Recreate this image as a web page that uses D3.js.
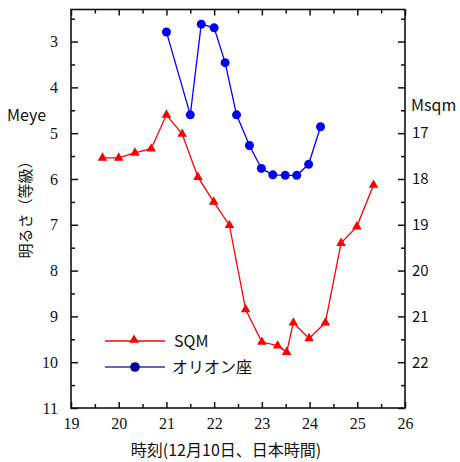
<!DOCTYPE html>
<html>
  <head>
    <meta charset="UTF-8" />
    <title>SQM / Orion</title>
    <style>
      body { margin: 0; background: #fff; }
    </style>
  </head>
  <body>
    <script src="https://cdn.jsdelivr.net/npm/d3@7"></script>
    <script>
      // SQM readings (hour, Meye)
      var sqmHours = [19.66, 20.0, 20.34, 20.68, 21.0, 21.33, 21.66, 21.99, 22.32, 22.66,
                      23.0, 23.33, 23.52, 23.66, 23.99, 24.33, 24.66, 24.99, 25.34];
      var sqmMag   = [5.54, 5.54, 5.43, 5.34, 4.60, 5.02, 5.96, 6.50, 7.01, 8.85,
                      9.56, 9.64, 9.78, 9.14, 9.48, 9.14, 7.40, 7.04, 6.13];

      // Orion estimates (hour, Meye)
      var orionHours = [21.0, 21.5, 21.73, 22.0, 22.23, 22.47, 22.74, 22.99, 23.23, 23.49, 23.73, 23.98, 24.23];
      var orionMag   = [2.79, 4.60, 2.62, 2.70, 3.46, 4.60, 5.27, 5.77, 5.91, 5.92, 5.92, 5.68, 4.86];

      var xTicks = [19, 20, 21, 22, 23, 24, 25, 26];
      var leftTicks = [3, 4, 5, 6, 7, 8, 9, 10, 11];
      var rightLabels = [17, 18, 19, 20, 21, 22];
      var seriesNames = ["SQM", "オリオン座"];

      var W = 460, H = 462;
      var x0 = 71, x1 = 405, y0 = 9.5, y1 = 408;
      var SERIF = "'Liberation Serif', 'Times New Roman', serif";
      var SANS = "'Noto Sans CJK JP', 'Noto Sans', sans-serif";

      var x = d3.scaleLinear().domain([19, 26]).range([x0, x1]);
      var y = d3.scaleLinear().domain([2.3, 11]).range([y0, y1]);
      var yR = d3.scaleLinear().domain([14.3, 23]).range([y0, y1]);

      var svg = d3.select("body").append("svg")
        .attr("width", W).attr("height", H);

      function steps(a, b) {
        var r = [];
        for (var v = a; v <= b + 1e-9; v += 1) r.push(v);
        return r;
      }
      function noDomain(g) { g.select(".domain").remove(); }

      // bottom axis
      svg.append("g")
        .attr("transform", "translate(0," + y1 + ")")
        .call(d3.axisBottom(x).tickValues(xTicks).tickFormat(d3.format("d"))
          .tickSizeInner(-6).tickSizeOuter(0).tickPadding(10))
        .call(noDomain)
        .attr("font-family", SERIF).attr("font-size", 16);
      svg.append("g")
        .attr("transform", "translate(0," + y1 + ")")
        .call(d3.axisBottom(x).tickValues(steps(19.5, 25.5)).tickSizeInner(-4).tickSizeOuter(0).tickFormat(""))
        .call(noDomain);

      // top axis
      svg.append("g")
        .attr("transform", "translate(0," + y0 + ")")
        .call(d3.axisTop(x).tickValues(xTicks).tickSizeInner(-6).tickSizeOuter(0).tickFormat(""))
        .call(noDomain);
      svg.append("g")
        .attr("transform", "translate(0," + y0 + ")")
        .call(d3.axisTop(x).tickValues(steps(19.5, 25.5)).tickSizeInner(-4).tickSizeOuter(0).tickFormat(""))
        .call(noDomain);

      // left axis
      svg.append("g")
        .attr("transform", "translate(" + x0 + ",0)")
        .call(d3.axisLeft(y).tickValues(leftTicks).tickFormat(d3.format("d"))
          .tickSizeInner(-7).tickSizeOuter(0).tickPadding(13))
        .call(noDomain)
        .attr("font-family", SERIF).attr("font-size", 16);
      svg.append("g")
        .attr("transform", "translate(" + x0 + ",0)")
        .call(d3.axisLeft(y).tickValues(steps(2.5, 10.5)).tickSizeInner(-4).tickSizeOuter(0).tickFormat(""))
        .call(noDomain);

      // right axis
      svg.append("g")
        .attr("transform", "translate(" + x1 + ",0)")
        .call(d3.axisRight(yR).tickValues(steps(15, 23)).tickSizeInner(-7).tickSizeOuter(0).tickFormat(""))
        .call(noDomain);
      svg.append("g")
        .attr("transform", "translate(" + x1 + ",0)")
        .call(d3.axisRight(yR).tickValues(rightLabels).tickFormat(d3.format("d")).tickSize(0).tickPadding(7))
        .call(noDomain)
        .attr("font-family", SANS).attr("font-size", 15);
      svg.append("g")
        .attr("transform", "translate(" + x1 + ",0)")
        .call(d3.axisRight(yR).tickValues(steps(14.5, 22.5)).tickSizeInner(-4).tickSizeOuter(0).tickFormat(""))
        .call(noDomain);

      svg.selectAll(".tick line").attr("stroke", "#111").attr("stroke-width", 1.5);
      svg.selectAll(".tick text").attr("fill", "#111");

      // frame
      svg.append("rect")
        .attr("x", x0).attr("y", y0)
        .attr("width", x1 - x0).attr("height", y1 - y0)
        .attr("fill", "none").attr("stroke", "#111").attr("stroke-width", 1.6);

      var line = d3.line()
        .x(function(d) { return x(d[0]); })
        .y(function(d) { return y(d[1]); });

      var sqm = d3.zip(sqmHours, sqmMag);
      var orion = d3.zip(orionHours, orionMag);

      var tri = d3.symbol().type(d3.symbolTriangle).size(40);

      svg.append("path").datum(sqm)
        .attr("d", line).attr("fill", "none").attr("stroke", "#ff0000").attr("stroke-width", 1.3);
      svg.append("g").selectAll("path").data(sqm).enter().append("path")
        .attr("d", tri)
        .attr("transform", function(d) { return "translate(" + x(d[0]) + "," + y(d[1]) + ")"; })
        .attr("fill", "#ff0000");

      svg.append("path").datum(orion)
        .attr("d", line).attr("fill", "none").attr("stroke", "#0000ff").attr("stroke-width", 1.3);
      svg.append("g").selectAll("circle").data(orion).enter().append("circle")
        .attr("cx", function(d) { return x(d[0]); })
        .attr("cy", function(d) { return y(d[1]); })
        .attr("r", 4.5)
        .attr("fill", "#0000ff");

      function label(sel) {
        return sel.attr("font-family", SANS).attr("fill", "#111");
      }

      // legend
      var leg = svg.append("g");
      leg.append("line").attr("x1", 105).attr("x2", 165).attr("y1", 341).attr("y2", 341)
        .attr("stroke", "#ff0000").attr("stroke-width", 1.3);
      leg.append("path").attr("d", tri).attr("transform", "translate(134,340)").attr("fill", "#ff0000");
      leg.append("text").call(label).attr("x", 174).attr("y", 347)
        .attr("font-size", 16).text(seriesNames[0]);
      leg.append("line").attr("x1", 105).attr("x2", 165).attr("y1", 367).attr("y2", 367)
        .attr("stroke", "#3333aa").attr("stroke-width", 1.3);
      leg.append("circle").attr("cx", 135).attr("cy", 367).attr("r", 4.8).attr("fill", "#000099");
      leg.append("text").call(label).attr("x", 172).attr("y", 373)
        .attr("font-size", 16).text(seriesNames[1]);

      // axis labels
      svg.append("text").call(label).attr("x", 7).attr("y", 121)
        .attr("font-size", 16).text("Meye");
      svg.append("text").call(label).attr("x", 411).attr("y", 111)
        .attr("font-size", 16).text("Msqm");
      svg.append("text").call(label)
        .attr("transform", "translate(31,206) rotate(-90)")
        .attr("text-anchor", "middle").attr("font-size", 15)
        .text("明るさ（等級）");
      svg.append("text").call(label).attr("x", 226).attr("y", 456)
        .attr("text-anchor", "middle").attr("font-size", 16)
        .text("時刻(12月10日、日本時間)");
    </script>
  </body>
</html>
